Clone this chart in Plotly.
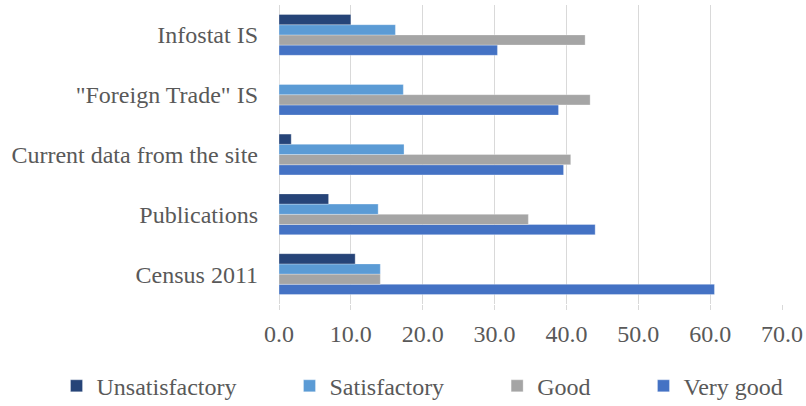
import plotly.graph_objects as go

# Survey categories (bottom to top on the y axis)
categories = [
    "Census 2011",
    "Publications",
    "Current data from the site",
    "\"Foreign Trade\" IS",
    "Infostat IS",
]

# Percent of responses per rating
unsatisfactory = [10.6, 6.9, 1.7, 0.0, 10.0]
satisfactory = [14.1, 13.8, 17.4, 17.3, 16.2]
good = [14.1, 34.7, 40.6, 43.3, 42.6]
very_good = [60.6, 44.0, 39.6, 38.9, 30.4]

x_ticks = [0, 10, 20, 30, 40, 50, 60, 70]

# (legend name, values, colour, trailing legend padding)
series = [
    ("Very good", very_good, "#4472C4", 0),
    ("Good", good, "#A5A5A5", 8),
    ("Satisfactory", satisfactory, "#5B9BD5", 8),
    ("Unsatisfactory", unsatisfactory, "#264478", 8),
]

fig = go.Figure()
for name, vals, color, pad in series:
    fig.add_trace(go.Bar(
        y=categories,
        x=vals,
        name=name + "\u00a0" * pad,
        orientation="h",
        marker=dict(color=color, line=dict(color="rgba(255,255,255,0.5)", width=0.6)),
    ))

font_family = "Liberation Serif"
text_font = dict(family=font_family, size=24, color="#595959")

fig.update_layout(
    width=806,
    height=406,
    margin=dict(l=279, r=24, t=4.5, b=101.5, autoexpand=False),
    paper_bgcolor="white",
    plot_bgcolor="white",
    barmode="group",
    bargap=0.317,
    bargroupgap=0,
    font=text_font,
    showlegend=True,
    legend=dict(
        orientation="h",
        traceorder="reversed",
        x=-0.4423,
        xanchor="left",
        y=-0.275,
        yanchor="middle",
        font=text_font,
        itemwidth=30,
        bgcolor="rgba(0,0,0,0)",
    ),
    xaxis=dict(
        range=[0, 70],
        tickvals=x_ticks,
        ticktext=[f"{v:.1f}" for v in x_ticks],
        showgrid=True,
        gridcolor="#D9D9D9",
        gridwidth=1.3,
        zeroline=True,
        zerolinecolor="#D9D9D9",
        zerolinewidth=1.3,
        showline=False,
        ticks="outside",
        ticklen=5,
        tickcolor="#D9D9D9",
        tickwidth=1.3,
        ticklabelstandoff=3,
        tickfont=text_font,
    ),
    yaxis=dict(
        categoryorder="array",
        categoryarray=categories,
        showgrid=False,
        zeroline=False,
        showline=False,
        ticks="",
        ticklabelstandoff=20,
        tickfont=text_font,
    ),
)

fig.write_html("out.html")
